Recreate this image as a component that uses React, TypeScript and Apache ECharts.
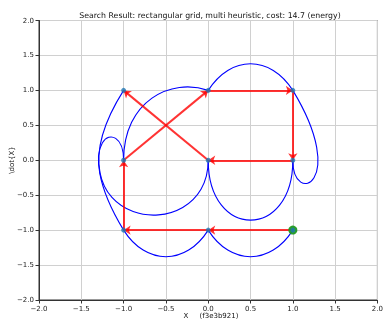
import React, { useEffect, useRef } from "react";
import * as echarts from "echarts";

// Waypoints of the search result, in visiting order (start is the first)
const waypoints: [number, number][] = [
  [1, -1], [0, -1], [-1, -1], [-1, 0], [0, 1], [1, 1], [1, 0], [0, 0], [-1, 1],
];

// Blue trajectory: each segment between consecutive waypoints is a cubic curve;
// its two inner control points are listed here.
const ctrlA: [number, number][] = [
  [0.734, -1.508], [-0.266, -1.508], [-1.667, 0.333], [-1.0, 0.853],
  [0.266, 1.508], [1.667, -0.333], [1.0, -1.143], [0.0, -1.312],
];
const ctrlB: [number, number][] = [
  [0.266, -1.508], [-0.734, -1.508], [-1.0, 0.667], [-0.439, 1.186],
  [0.734, 1.508], [1.0, -0.667], [0.0, -1.143], [-2.033, -0.979],
];

const ticks = [-2, -1.5, -1, -0.5, 0, 0.5, 1, 1.5, 2];

const titleText = "Search Result: rectangular grid, multi heuristic, cost: 14.7 (energy)";
const xLabel = "X     (f3e3b921)";
const yLabel = "\\dot{X}";

const FONT = "DejaVu Sans";

export default function App() {
  const ref = useRef<HTMLDivElement>(null);
  useEffect(() => {
    if (!ref.current) return;
    const chart = echarts.init(ref.current, null, { renderer: "svg" });
    const fmt = (v: number) => v.toFixed(1).replace("-", "\u2212");
    const axisCommon = {
      type: "value" as const,
      min: ticks[0],
      max: ticks[ticks.length - 1],
      interval: 0.5,
      axisLine: { show: true, onZero: false, lineStyle: { color: "#333", width: 1 } },
      axisTick: { show: true, inside: false, length: 3.5, lineStyle: { color: "#333" } },
      splitLine: { show: true, lineStyle: { color: "#d0d0d0", width: 1 } },
      axisLabel: { formatter: fmt, fontSize: 7, color: "#222", fontFamily: FONT, margin: 5 },
    };
    const arrows = waypoints.slice(0, -1).map((p, i) => ({ coords: [p, waypoints[i + 1]] }));
    const curveData = waypoints.slice(0, -1).map((p, i) => [
      p[0], p[1], ctrlA[i][0], ctrlA[i][1], ctrlB[i][0], ctrlB[i][1], waypoints[i + 1][0], waypoints[i + 1][1],
    ]);
    chart.setOption({
      animation: false,
      grid: { left: 39, right: 5.5, top: 20.5, bottom: 20, show: true, borderColor: "#333", borderWidth: 1, backgroundColor: "transparent" },
      xAxis: { ...axisCommon },
      yAxis: { ...axisCommon },
      graphic: [
        { type: "text", x: 210, y: 15, style: { text: titleText, fontSize: 7.8, fontFamily: FONT, fill: "#111", align: "center", verticalAlign: "middle" } },
        { type: "text", x: 211, y: 316, style: { text: xLabel, fontSize: 7, fontFamily: FONT, fill: "#111", align: "center", verticalAlign: "middle" } },
        { type: "text", x: 12, y: 160, rotation: Math.PI / 2, style: { text: yLabel, fontSize: 7, fontFamily: FONT, fill: "#111", align: "center", verticalAlign: "middle" } },
      ],
      series: [
        {
          type: "custom",
          coordinateSystem: "cartesian2d",
          data: curveData,
          encode: { x: [0, 2, 4, 6], y: [1, 3, 5, 7] },
          clip: false,
          z: 2,
          renderItem: (_params: any, api: any) => {
            const p0 = api.coord([api.value(0), api.value(1)]);
            const c1 = api.coord([api.value(2), api.value(3)]);
            const c2 = api.coord([api.value(4), api.value(5)]);
            const p1 = api.coord([api.value(6), api.value(7)]);
            return {
              type: "bezierCurve",
              shape: { x1: p0[0], y1: p0[1], cpx1: c1[0], cpy1: c1[1], cpx2: c2[0], cpy2: c2[1], x2: p1[0], y2: p1[1] },
              style: { stroke: "#0000ff", lineWidth: 1.1, fill: null },
            };
          },
        },
        {
          type: "lines",
          coordinateSystem: "cartesian2d",
          data: arrows,
          symbol: ["none", "arrow"],
          symbolSize: 7,
          lineStyle: { color: "#ff0000", width: 2, opacity: 0.8 },
          itemStyle: { color: "#ff0000" },
          z: 3,
        },
        {
          type: "scatter",
          data: [waypoints[0]],
          symbolSize: 9,
          itemStyle: { color: "#1f9a1f", opacity: 0.95 },
          z: 4,
        },
        {
          type: "scatter",
          data: waypoints,
          symbolSize: 5,
          itemStyle: { color: "#1f77b4" },
          z: 5,
        },
      ],
    });
    return () => chart.dispose();
  }, []);
  return <div ref={ref} style={{ position: "fixed", left: 0, top: 0, width: 386, height: 320 }} />;
}
